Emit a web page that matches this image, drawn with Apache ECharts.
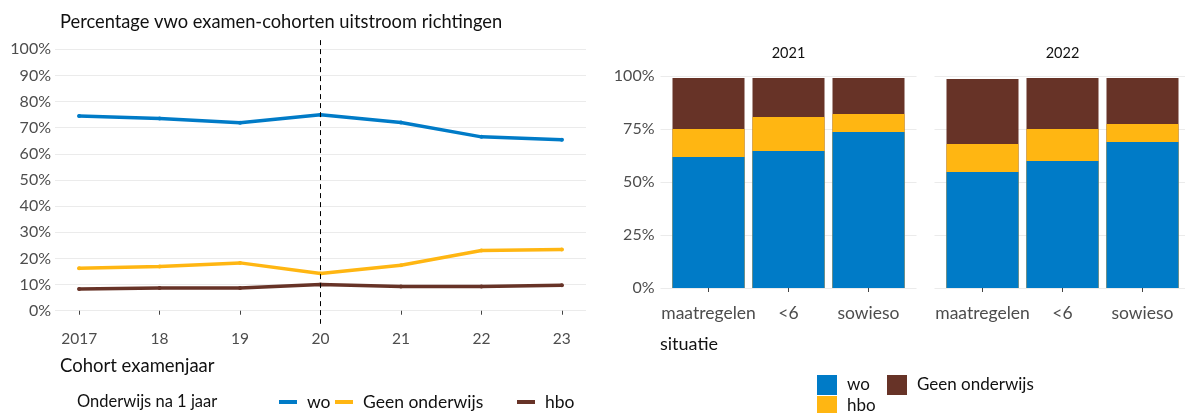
<!DOCTYPE html>
<html><head><meta charset="utf-8">
<script src="https://cdn.jsdelivr.net/npm/echarts@6/dist/echarts.min.js"></script>
<style>html,body{margin:0;padding:0;background:#fff}#c{width:1185px;height:413px}</style>
</head><body><div id="c"></div>
<script>
// ---- data ----
const years = [2017, 2018, 2019, 2020, 2021, 2022, 2023];
const yearLabels = ['2017', '18', '19', '20', '21', '22', '23'];
const lineWo = [74.5, 73.5, 71.9, 75.0, 72.0, 66.5, 65.4];
const lineGeen = [16.2, 16.9, 18.3, 14.2, 17.4, 23.0, 23.4];
const lineHbo = [8.3, 8.7, 8.7, 10.0, 9.3, 9.3, 9.7];
const lineTicks = [0, 10, 20, 30, 40, 50, 60, 70, 80, 90, 100];
const markYear = 2020;

const situaties = ['maatregelen', '<6', 'sowieso'];
const situatiePos = [1, 2, 3];
const panels = ['2021', '2022'];
const barWo2021 = [61.8, 64.6, 73.6];
const barHbo2021 = [13.2, 16.1, 8.5];
const barGeen2021 = [24.0, 18.3, 16.9];
const barWo2022 = [54.7, 59.9, 68.9];
const barHbo2022 = [13.2, 15.1, 8.5];
const barGeen2022 = [30.7, 24.0, 21.6];
const barTicks = [0, 25, 50, 75, 100];

// ---- style ----
const BLUE = '#007bc7', YELLOW = '#ffb612', BROWN = '#673327';
const FONT = 'Lato';
const LABEL = '#4d4d4d';
const GRIDC = '#ebebeb';
const INK = '#111111';

const pairs = (xs, ys) => xs.map((x, i) => [x, ys[i]]);
const addArr = (a, b) => a.map((v, i) => v + b[i]);

function lineSeries(name, vals, color, extra) {
  return Object.assign({
    type: 'line', name, xAxisIndex: 0, yAxisIndex: 0,
    data: pairs(years, vals),
    symbol: 'circle', symbolSize: 4, showSymbol: true,
    itemStyle: { color },
    lineStyle: { color, width: 3.5, cap: 'round', join: 'round' },
    silent: true, animation: false
  }, extra || {});
}
// stacked bars drawn as overlapping cumulative bars (back to front)
function barStack(wo, hbo, geen, idx) {
  const c1 = wo, c2 = addArr(wo, hbo), c3 = addArr(c2, geen);
  const mk = (name, vals, color) => ({
    type: 'bar', name, xAxisIndex: idx, yAxisIndex: idx,
    barWidth: 72, barGap: '-100%',
    data: pairs(situatiePos, vals),
    itemStyle: { color },
    silent: true, animation: false
  });
  return [mk('Geen onderwijs', c3, BROWN), mk('hbo', c2, YELLOW), mk('wo', c1, BLUE)];
}

const yLineAxis = {
  type: 'value', gridIndex: 0, min: -5, max: 105,
  axisLine: { show: false },
  axisTick: { show: false, customValues: lineTicks },
  axisLabel: { customValues: lineTicks, formatter: '{value}%', color: LABEL, fontSize: 16, fontFamily: FONT, margin: 4 },
  splitLine: { show: true, lineStyle: { color: GRIDC, width: 1 } }
};
const xLineAxis = {
  type: 'value', gridIndex: 0, min: 2016.7, max: 2023.3,
  axisLine: { show: false },
  axisTick: { show: true, customValues: years, length: 4, lineStyle: { color: '#444' } },
  axisLabel: { customValues: years, formatter: v => yearLabels[years.indexOf(v)], color: LABEL, fontSize: 15.5, fontFamily: FONT, margin: 7 },
  splitLine: { show: false }
};
function xBarAxis(i) {
  return {
    type: 'value', gridIndex: i, min: 0.4, max: 3.6,
    axisLine: { show: false },
    axisTick: { show: true, customValues: situatiePos, length: 4, lineStyle: { color: '#444' } },
    axisLabel: { customValues: situatiePos, formatter: v => situaties[v - 1], color: LABEL, fontSize: 17.5, fontFamily: FONT, margin: 6 },
    splitLine: { show: false }
  };
}
function yBarAxis(i, showLabels) {
  return {
    type: 'value', gridIndex: i, min: -5, max: 105,
    axisLine: { show: false },
    axisTick: { show: false, customValues: barTicks },
    axisLabel: { show: showLabels, customValues: barTicks, formatter: '{value}%', color: LABEL, fontSize: 16, fontFamily: FONT, margin: 6 },
    splitLine: { show: true, lineStyle: { color: GRIDC, width: 1 } }
  };
}

function lineLegend(name, color, left) {
  return {
    left, top: 388, orient: 'horizontal', selectedMode: false,
    icon: 'rect', itemWidth: 18, itemHeight: 4,
    data: [{ name, icon: 'rect', itemStyle: { color, borderWidth: 0 } }],
    textStyle: { color: INK, fontSize: 17.5, fontFamily: FONT, padding: [0, 0, 0, 5] }
  };
}
function barLegend(name, color, left, top) {
  return {
    left, top, orient: 'horizontal', selectedMode: false,
    icon: 'rect', itemWidth: 20, itemHeight: 20,
    data: [{ name, icon: 'rect', itemStyle: { color, borderWidth: 0 } }],
    textStyle: { color: INK, fontSize: 17, fontFamily: FONT, padding: [0, 0, 0, 5] }
  };
}

function txt(text, x, y, size, align) {
  return {
    type: 'text', x, y, silent: true,
    style: { text, fill: INK, font: size + 'px ' + FONT, align: align || 'left', verticalAlign: 'middle' }
  };
}

const option = {
  backgroundColor: '#ffffff',
  animation: false,
  grid: [
    { left: 55, top: 36.2, width: 531, height: 287.6, outerBoundsMode: 'none', containLabel: false },
    { left: 660.5, top: 65.4, width: 256, height: 233.2, outerBoundsMode: 'none', containLabel: false },
    { left: 934.5, top: 65.4, width: 256, height: 233.2, outerBoundsMode: 'none', containLabel: false }
  ],
  xAxis: [xLineAxis, xBarAxis(1), xBarAxis(2)],
  yAxis: [yLineAxis, yBarAxis(1, true), yBarAxis(2, false)],
  legend: [
    lineLegend('wo', BLUE, 274),
    lineLegend('Geen onderwijs', YELLOW, 330),
    lineLegend('hbo', BROWN, 512),
    barLegend('wo', BLUE, 812, 370),
    barLegend('Geen onderwijs', BROWN, 882, 370),
    barLegend('hbo', YELLOW, 812, 391)
  ],
  series: [
    lineSeries('wo', lineWo, BLUE, {
      markLine: {
        silent: true, symbol: 'none', animation: false,
        label: { show: false },
        lineStyle: { color: '#000', type: [5, 4], width: 1 },
        data: [[{ coord: [markYear, 103.5] }, { coord: [markYear, -5] }]]
      }
    }),
    lineSeries('Geen onderwijs', lineGeen, YELLOW),
    lineSeries('hbo', lineHbo, BROWN)
  ].concat(
    barStack(barWo2021, barHbo2021, barGeen2021, 1),
    barStack(barWo2022, barHbo2022, barGeen2022, 2)
  ),
  graphic: [
    txt('Percentage vwo examen-cohorten uitstroom richtingen', 60, 22, 18.3),
    txt('Cohort examenjaar', 60, 366, 18.5),
    txt('Onderwijs na 1 jaar', 77, 402, 16.5),
    txt('situatie', 660, 344, 18),
    txt(panels[0], 788.5, 53, 14.5, 'center'),
    txt(panels[1], 1062.5, 53, 14.5, 'center')
  ]
};

const chart = echarts.init(document.getElementById('c'), null, { renderer: 'canvas' });
chart.setOption(option);
</script>
</body></html>
